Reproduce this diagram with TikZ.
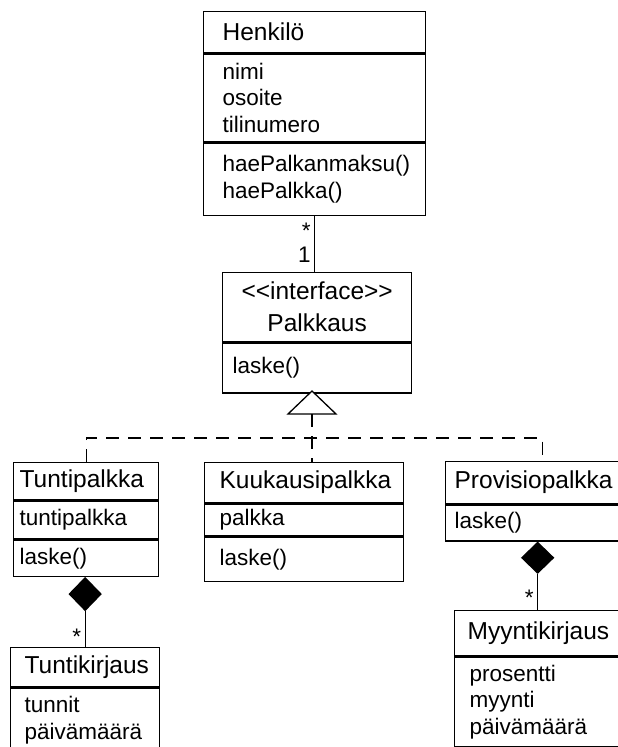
\documentclass[tikz,border=0pt]{standalone}
\usepackage{fontspec}
\setmainfont{Liberation Sans}
\usetikzlibrary{positioning,shapes.geometric}
\newcommand{\clsfont}{\fontsize{24.5}{28}\selectfont}
\newcommand{\mbrfont}{\fontsize{22.5}{26.5}\selectfont}
\hyphenpenalty=10000

\begin{document}
\begin{tikzpicture}[x=1pt, y=-1pt, line width=1.3pt,
    hd/.style = {draw, font=\clsfont, align=left, inner ysep=0pt, anchor=north west},
    cell/.style = {draw, font=\mbrfont, align=left, inner ysep=0pt},
    comp/.style = {draw, fill=black, diamond, inner sep=0pt, minimum width=32, minimum height=33, anchor=north},
    mul/.style = {font=\mbrfont, inner ysep=0pt},
    dsh/.style = {dash pattern=on 13pt off 9pt}]
    \useasboundingbox (0,0) rectangle (618,747);
    \clip (0,0) rectangle (618,747);

    % Henkilo
    \node[hd, inner xsep=19, text width=184pt, minimum height=41] (henk) at (203,11) {Henkilö};
    \node[cell, inner xsep=19, text width=184pt, minimum height=88] (henkA) [below=0pt of henk] {nimi\\osoite\\tilinumero};
    \node[cell, inner xsep=19, text width=184pt, minimum height=72] (henkM) [below=0pt of henkA] {haePalkanmaksu()\\haePalkka()};

    % Palkkaus
    \node[hd, align=center, inner xsep=10, text width=169pt, minimum height=69] (palk) at (222,272) {<\kern0pt<interface>\kern0pt>\\[4pt]Palkkaus};
    \node[cell, inner xsep=10, text width=169pt, minimum height=50] (palkM) [below=0pt of palk] {laske()};

    % subclasses
    \node[hd, inner xsep=6, text width=133pt, minimum height=37] (tunti) at (13,462) {Tuntipalkka};
    \node[cell, inner xsep=6, text width=133pt, minimum height=38] (tuntiA) [below=0pt of tunti] {tuntipalkka};
    \node[cell, inner xsep=6, text width=133pt, minimum height=36] (tuntiM) [below=0pt of tuntiA] {laske()};

    \node[hd, inner xsep=15, text width=169pt, minimum height=40] (kuuk) at (204,462) {Kuukausipalkka};
    \node[cell, inner xsep=15, text width=169pt, minimum height=32] (kuukA) [below=0pt of kuuk] {palkka};
    \node[cell, inner xsep=15, text width=169pt, minimum height=44] (kuukM) [below=0pt of kuukA] {laske()};

    \node[hd, inner xsep=9, text width=176pt, minimum height=42] (prov) at (445,461) {Provisiopalkka};
    \node[cell, inner xsep=9, text width=176pt, minimum height=36] (provM) [below=0pt of prov] {laske()};

    % kirjaukset
    \node[hd, inner xsep=14, text width=121pt, minimum height=39] (tkir) at (10,647) {Tuntikirjaus};
    \node[cell, inner xsep=14, text width=121pt, minimum height=64] (tkirA) [below=0pt of tkir] {tunnit\\päivämäärä};

    \node[hd, inner xsep=13, text width=140pt, minimum height=45] (myyn) at (454,610) {Myyntikirjaus};
    \node[cell, inner xsep=15, text width=136pt, minimum height=90] (myynA) [below=0pt of myyn] {prosentti\\myynti\\päivämäärä};

    % associations
    \draw (henkM) -- (henkM |- palk.north) node[mul, pos=0.27, left] {*} node[mul, pos=0.69, left] {1};

    \node[comp] (dT) at (tkir.north |- tuntiM.south) {};
    \draw (dT) -- (dT |- tkir.north) node[mul, pos=0.7, left] {*};

    \node[comp, minimum height=31] (dP) at (myyn.north |- provM.south) {};
    \draw (dP) -- (myyn.north) node[mul, pos=0.67, left] {*};

    % realization
    \coordinate (apex) at (312,391);
    \coordinate (bus) at (312,438);
    \draw[fill=white] (apex) -- ++(-24,23) -- ++(48,0) -- cycle;
    \draw[dsh] (apex) ++(0,23) -- (bus) -- (bus |- kuuk.north);
    \draw[dsh] (tunti.north) |- (bus) -| (prov.north);
\end{tikzpicture}
\end{document}
